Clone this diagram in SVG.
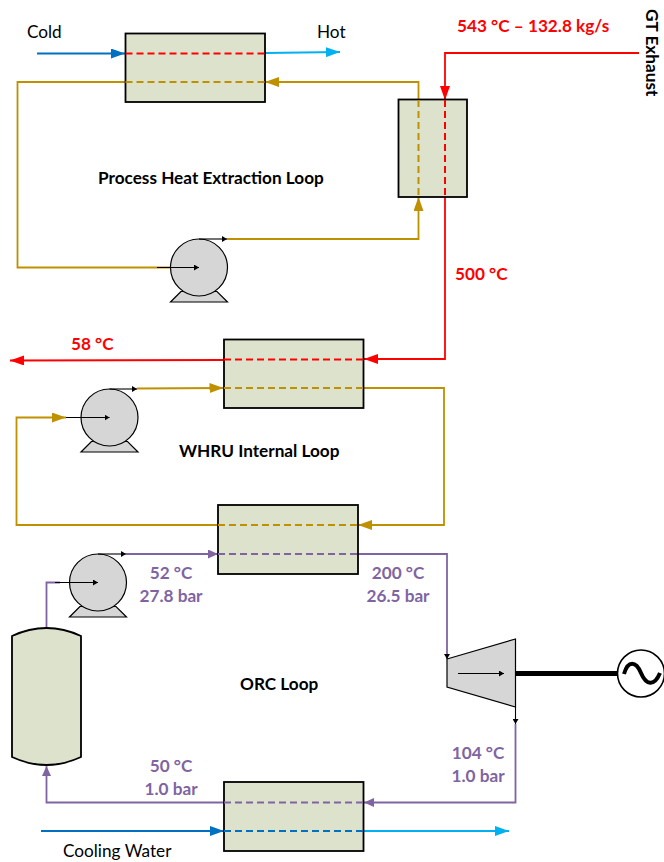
<svg xmlns="http://www.w3.org/2000/svg" width="664" height="862" viewBox="0 0 664 862">
<style>
text{font-family:"Lato","Open Sans","Liberation Sans",sans-serif;font-size:17.200px}
.b{font-weight:700}
.m{text-anchor:middle}
.red{fill:#f00}
.pur{fill:#8064a2}
.eq{fill:#dde2cc;stroke:#000;stroke-width:1.8}
.mach{fill:#d6d6d6;stroke:#000;stroke-width:1.2}
.l{fill:none;stroke-width:1.8}
.d{fill:none;stroke-width:2;stroke-dasharray:7 4}
.k{fill:none;stroke:#000;stroke-width:1.1}
.cr{stroke:#f00}.cb{stroke:#bf9000}.cp{stroke:#8064a2}.cd{stroke:#0070c0}.cc{stroke:#00b0f0}
</style>
<defs>
<marker id="ar" markerUnits="userSpaceOnUse" markerWidth="14" markerHeight="10" refX="14" refY="5" orient="auto"><path d="M0 0L14 5L0 10Z" fill="#f00"/></marker>
<marker id="ab" markerUnits="userSpaceOnUse" markerWidth="14" markerHeight="10" refX="14" refY="5" orient="auto"><path d="M0 0L14 5L0 10Z" fill="#bf9000"/></marker>
<marker id="ap" markerUnits="userSpaceOnUse" markerWidth="10" markerHeight="9" refX="10" refY="4.500" orient="auto"><path d="M0 0L10 4.500L0 9Z" fill="#8064a2"/></marker>
<marker id="ad" markerUnits="userSpaceOnUse" markerWidth="14" markerHeight="10" refX="14" refY="5" orient="auto"><path d="M0 0L14 5L0 10Z" fill="#0070c0"/></marker>
<marker id="ac" markerUnits="userSpaceOnUse" markerWidth="14" markerHeight="10" refX="14" refY="5" orient="auto"><path d="M0 0L14 5L0 10Z" fill="#00b0f0"/></marker>
<marker id="ak" markerUnits="userSpaceOnUse" markerWidth="5" markerHeight="6" refX="5" refY="3" orient="auto"><path d="M0 0L5 3L0 6Z" fill="#000"/></marker>
<g id="pump-shape">
<path d="M-18 24L-28.500 34.500H28.500L18 24Z" class="mach"/>
<circle r="28.500" class="mach"/>
</g>
</defs>

<g id="connectors-under">
<path d="M37 53.500H125" class="l cd" marker-end="url(#ad)"/>
<path d="M265 53L340 52" class="l cc" marker-end="url(#ac)"/>
<path d="M418.500 100V82H265" class="l cb" marker-end="url(#ab)"/>
<path d="M125.500 82H17.500V267.500H170" class="l cb"/>
<path d="M227 239H418.500V197" class="l cb" marker-end="url(#ab)"/>
<path d="M639 53H445V100" class="l cr" marker-end="url(#ar)"/>
<path d="M445 197V359H364" class="l cr" marker-end="url(#ar)"/>
<path d="M224 360L10 360.500" class="l cr" marker-end="url(#ar)"/>
<path d="M137 388.500L223.500 388" class="l cb" marker-end="url(#ab)"/>
<path d="M363 388H444V525H358" class="l cb" marker-end="url(#ab)"/>
<path d="M218 525H16.500V417.500H66" class="l cb" marker-end="url(#ab)"/>
<path d="M126 554H218" class="l cp" marker-end="url(#ap)"/>
<path d="M358 554H447V656" class="l cp"/>
<path d="M46.500 628V582.500H60" class="l cp"/>
<path d="M515.500 724V802.500H364" class="l cp" marker-end="url(#ap)"/>
<path d="M224 802.500H46.500V766" class="l cp" marker-end="url(#ap)"/>
<path d="M41 831H224" class="l cd" marker-end="url(#ad)"/>
<path d="M363.500 831H509" class="l cc" marker-end="url(#ac)"/>
</g>

<g id="hx-1"><rect x="125.500" y="33.500" width="139.500" height="68.500" class="eq"/></g>
<g id="hx-2"><rect x="398.500" y="99.500" width="68.500" height="97.500" class="eq"/></g>
<g id="hx-3"><rect x="224" y="339.500" width="139.500" height="68.500" class="eq"/></g>
<g id="hx-4"><rect x="218" y="505" width="140" height="69" class="eq"/></g>
<g id="hx-5"><rect x="224" y="782" width="139.500" height="69" class="eq"/></g>
<g id="separator"><path d="M12 636Q46.500 620 81 636V757Q46.500 773 12 757Z" class="eq"/></g>
<g id="pump-1"><use href="#pump-shape" x="199" y="267.500"/></g>
<g id="pump-2"><use href="#pump-shape" x="109.500" y="417.500"/></g>
<g id="pump-3"><use href="#pump-shape" x="98" y="582.500"/></g>
<g id="turbine"><path d="M447 659L515.500 639V707L447 687Z" class="mach"/></g>
<g id="generator"><circle cx="641" cy="673.500" r="23.500" fill="#fff" stroke="#000" stroke-width="1.600"/><path d="M624 674C628 660 636 661 641 673S654 687 660 673" fill="none" stroke="#000" stroke-width="4"/></g>

<g id="connectors-over">
<path d="M125.500 53.500H265" class="d cr"/>
<path d="M125.500 82H265" class="d cb"/>
<path d="M418.500 100V197" class="d cb"/>
<path d="M445 100V197" class="d cr"/>
<path d="M224 359.500H363.500" class="d cr"/>
<path d="M224 388H363.500" class="d cb"/>
<path d="M218 525H358" class="d cb"/>
<path d="M218 554H358" class="d cp"/>
<path d="M224 802.500H363.500" class="d cp"/>
<path d="M224 831H363.500" class="d cd"/>
<path d="M157 267.500H199" class="k" marker-end="url(#ak)"/>
<path d="M199 239H227" class="k" marker-end="url(#ak)"/>
<path d="M66 417.500H109.500" class="k" marker-end="url(#ak)"/>
<path d="M109.500 389H137" class="k" marker-end="url(#ak)"/>
<path d="M55 582.500H98" class="k" marker-end="url(#ak)"/>
<path d="M98 554H126" class="k" marker-end="url(#ak)"/>
<path d="M447 654V659" class="k" marker-end="url(#ak)"/>
<path d="M458 673.500H504" class="k" marker-end="url(#ak)"/>
<path d="M515.500 707V724" class="k" marker-end="url(#ak)"/>
<path d="M516 673.500H618" fill="none" stroke="#000" stroke-width="5"/>
</g>

<g id="labels">
<text x="27" y="38">Cold</text>
<text x="317" y="38">Hot</text>
<text x="98" y="184" class="b">Process Heat Extraction Loop</text>
<text x="457" y="32" class="b red">543 °C – 132.8 kg/s</text>
<text class="b" transform="translate(646 9) rotate(90)">GT Exhaust</text>
<text x="455" y="280" class="b red">500 °C</text>
<text x="71" y="350" class="b red">58 °C</text>
<text x="179" y="457" class="b">WHRU Internal Loop</text>
<text x="171" y="579" class="b pur m">52 °C</text>
<text x="171" y="602" class="b pur m">27.8 bar</text>
<text x="398" y="579" class="b pur m">200 °C</text>
<text x="398" y="602" class="b pur m">26.5 bar</text>
<text x="240" y="690" class="b">ORC Loop</text>
<text x="478" y="759" class="b pur m">104 °C</text>
<text x="478" y="782" class="b pur m">1.0 bar</text>
<text x="171" y="772" class="b pur m">50 °C</text>
<text x="171" y="795" class="b pur m">1.0 bar</text>
<text x="63" y="857">Cooling Water</text>
</g>
</svg>
